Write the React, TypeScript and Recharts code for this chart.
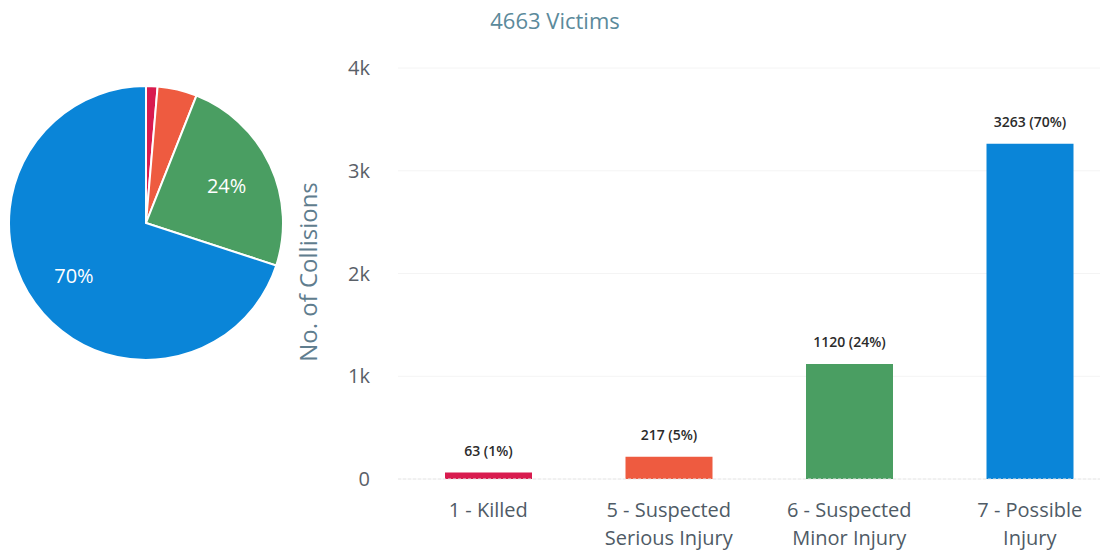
import React from "react";
import {
  PieChart,
  Pie,
  Cell,
  BarChart,
  Bar,
  XAxis,
  YAxis,
  CartesianGrid,
  LabelList,
  Label,
} from "recharts";

const categories = ["1 - Killed", "5 - Suspected Serious Injury", "6 - Suspected Minor Injury", "7 - Possible Injury"];
const tickLines = [["1 - Killed"], ["5 - Suspected", "Serious Injury"], ["6 - Suspected", "Minor Injury"], ["7 - Possible", "Injury"]];
const victims = [63, 217, 1120, 3263];
const colors = ["#d81b4e", "#ee5b40", "#4a9e62", "#0a85d8"];
const yTicks = [0, 1000, 2000, 3000, 4000];

const total = victims.reduce((a, b) => a + b, 0);
const data = categories.map((name, i) => ({ name, value: victims[i], lines: tickLines[i] }));

const FONT = "'Open Sans', 'DejaVu Sans', sans-serif";
const RADIAN = Math.PI / 180;

function PieLabel(props: any) {
  const { cx, cy, midAngle, outerRadius, percent } = props;
  if (percent < 0.1) return null;
  const r = outerRadius * 0.65;
  const x = cx + r * Math.cos(-midAngle * RADIAN);
  const y = cy + r * Math.sin(-midAngle * RADIAN);
  return (
    <text x={x} y={y} fill="#fff" fontSize={20} textAnchor="middle" dominantBaseline="central">
      {Math.round(percent * 100)}%
    </text>
  );
}

function XTick(props: any) {
  const { x, y, payload } = props;
  const lines = tickLines[categories.indexOf(payload.value)] || [payload.value];
  return (
    <g transform={`translate(${x},${y})`}>
      {lines.map((l: string, i: number) => (
        <text key={i} x={0} y={30 + i * 28} textAnchor="middle" fill="#4f5b66" fontSize={20}>
          {l}
        </text>
      ))}
    </g>
  );
}

function BarValue(props: any) {
  const { x, y, width, value } = props;
  const pct = Math.round((value / total) * 100);
  return (
    <text x={x + width / 2} y={y - 17} textAnchor="middle" fill="#2b2b2b" fontSize={14} fontWeight={600}>
      {`${value} (${pct}%)`}
    </text>
  );
}

export default function App() {
  return (
    <div
      style={{
        position: "fixed",
        left: 0,
        top: 0,
        width: 1100,
        height: 552,
        overflow: "hidden",
        background: "#fff",
        fontFamily: FONT,
      }}
    >
      <div style={{ position: "absolute", left: 0, top: 0 }}>
        <PieChart width={300} height={552} margin={{ top: 0, right: 0, bottom: 0, left: 0 }}>
          <Pie
            data={data}
            dataKey="value"
            nameKey="name"
            cx={146}
            cy={223}
            outerRadius={137}
            startAngle={90}
            endAngle={-270}
            stroke="#fff"
            strokeWidth={2}
            label={PieLabel}
            labelLine={false}
            isAnimationActive={false}
          >
            {data.map((d, i) => (
              <Cell key={d.name} fill={colors[i]} />
            ))}
          </Pie>
        </PieChart>
      </div>

      <div
        style={{
          position: "absolute",
          left: 455,
          top: 5,
          width: 200,
          textAlign: "center",
          fontSize: 22,
          color: "#5b8a9b",
        }}
      >
        {total} Victims
      </div>

      <div style={{ position: "absolute", left: 280, top: 0 }}>
        <BarChart width={840} height={552} data={data} margin={{ top: 68, right: 0, bottom: 0, left: 0 }}>
          <CartesianGrid vertical={false} stroke="#f4f4f4" />
          <XAxis
            dataKey="name"
            height={73}
            axisLine={{ stroke: "#e8e8e8", strokeDasharray: "3 2" }}
            tickLine={false}
            tick={<XTick />}
            interval={0}
          />
          <YAxis
            width={118}
            domain={[0, 4000]}
            ticks={yTicks}
            axisLine={false}
            tickLine={false}
            tickSize={0}
            tickMargin={28}
            tick={{ fill: "#5a6068", fontSize: 20 }}
            tickFormatter={(v: number) => (v === 0 ? "0" : `${v / 1000}k`)}
          >
            <Label
              content={() => (
                <text
                  x={27}
                  y={272}
                  transform="rotate(-90, 27, 272)"
                  textAnchor="middle"
                  dominantBaseline="central"
                  fill="#5f7d8e"
                  fontSize={24}
                >
                  No. of Collisions
                </text>
              )}
            />
          </YAxis>
          <Bar dataKey="value" barSize={87} isAnimationActive={false}>
            {data.map((d, i) => (
              <Cell key={d.name} fill={colors[i]} />
            ))}
            <LabelList dataKey="value" content={<BarValue />} />
          </Bar>
        </BarChart>
      </div>
    </div>
  );
}
